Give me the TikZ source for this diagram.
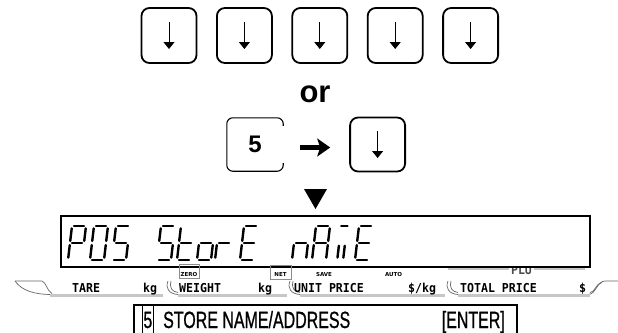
\documentclass[tikz,border=0pt]{standalone}
\usepackage{fontspec}
\setmainfont{Liberation Sans}
\newfontfamily\monofont[FakeStretch=0.94]{DejaVu Sans Mono}
\newfontfamily\narrowfont[FakeStretch=0.68,FakeBold=0.8]{Liberation Sans}
\newfontfamily\tagfont{DejaVu Sans}
\usetikzlibrary{arrows.meta,positioning}

% one slanted LCD segment: x, u1, v1, u2, v2
\newcommand{\lcdline}[5]{\draw[lcdseg] ({#1+#2*14+#3*4},{260-#3*34}) -- ({#1+#4*14+#5*4},{260-#5*34});}
\newcommand{\sega}[1]{\lcdline{#1}{.14}{1}{.86}{1}}
\newcommand{\segb}[1]{\lcdline{#1}{1}{.93}{1}{.56}}
\newcommand{\segc}[1]{\lcdline{#1}{1}{.44}{1}{.07}}
\newcommand{\segd}[1]{\lcdline{#1}{.14}{0}{.86}{0}}
\newcommand{\sege}[1]{\lcdline{#1}{0}{.44}{0}{.07}}
\newcommand{\segf}[1]{\lcdline{#1}{0}{.93}{0}{.56}}
\newcommand{\segg}[1]{\lcdline{#1}{.14}{.5}{.86}{.5}}
\newcommand{\segh}[1]{\lcdline{#1}{.3}{.42}{.3}{.07}}
\newcommand{\segi}[1]{\lcdline{#1}{.72}{.42}{.72}{.07}}
\newcommand{\segj}[1]{\lcdline{#1}{.3}{1}{.75}{1}}
\newcommand{\lcdchar}[2]{\foreach \sg in {#2}{\csname seg\sg\endcsname{#1}}}

\begin{document}
\begin{tikzpicture}[x=1pt,y=-1pt,
  downkey/.style={draw,line width=1.8pt,rounded corners=8pt,minimum width=55pt,minimum height=55pt,inner sep=0pt,
    path picture={\draw[line width=1pt,-{Triangle[width=11pt,length=7pt]}]
      ([yshift=13.5pt]path picture bounding box.center) -- ([yshift=-13.5pt]path picture bounding box.center);}},
  numkey/.style={minimum width=56pt,minimum height=53pt,inner sep=0pt,font=\fontsize{24}{24}\selectfont\bfseries},
  bigarrow/.style={line width=5pt,-{Stealth[length=13pt,width=18pt,inset=3pt]}},
  lcdseg/.style={line width=2.4pt,line cap=round},
  lab/.style={font=\monofont\bfseries\fontsize{12.3}{12}\selectfont,inner sep=0pt,anchor=base west},
  tagbox/.style={draw=black!45,line width=.6pt,minimum width=20pt,minimum height=14pt,inner sep=0pt},
  tag/.style={font=\tagfont\bfseries\fontsize{5.5}{5.5}\selectfont,inner sep=0pt},
  segline/.style={draw=black!60,line width=.7pt},
  bar/.style={draw=black!22,line width=3pt},
  menu/.style={font=\narrowfont\fontsize{23.5}{24}\selectfont,inner sep=0pt}]
\useasboundingbox (0,0) rectangle (618,332);
\clip (0,0) rectangle (618,332);

\node[downkey] (d1) at (169,35.5) {};
\foreach \i [remember=\i as \j (initially 1)] in {2,...,5}
  \node[downkey,right=18.6pt of d\j] (d\i) {};
\node[font=\fontsize{31}{31}\selectfont\bfseries] (or) at (315,94) {or};
\node[numkey] (five) at (255,144.5) {5};
\draw[line width=1.1pt,rounded corners=6pt] ([yshift=-8pt]five.north east) -- (five.north east)
  -- (five.north west) -- (five.south west) -- (five.south east) -- ([yshift=8pt]five.south east);
\node[downkey,minimum height=54pt,right=66pt of five] (down) {};
\draw[bigarrow,shorten <=17pt,shorten >=19pt] ([yshift=-3pt]five.east) -- ([yshift=-3pt]down.west);
\fill (304,189) -- (327,189) -- (315.5,209) -- cycle;

% legend strip under the display
\draw[bar] (448,268) -- (585,268);
\node[lab,anchor=center,fill=white,inner xsep=2pt,text=black!70] (plu) at (521.5,270) {PLU};
\draw[segline] (15,281) -- (42,281) .. controls (46,282) and (47,291) .. (52,293.5);
\draw[segline] (15,281) .. controls (22,291) and (35,294.5) .. (52,294.5);
\foreach \x in {165,287,445} {
  \draw[segline] ({\x+3},281) .. controls (\x,288) and ({\x+4},294) .. ({\x+13},294.5);
  \draw[segline] ({\x+6},281) .. controls ({\x+4},287) and ({\x+7},292) .. ({\x+13},292.5);
}
\draw[segline] (588,294.5) .. controls (596,294.5) and (597,281) .. (605,281) -- (618,281);
\draw[segline] (590,292.5) .. controls (595,292.5) and (596,283) .. (602,282.5);
\draw[bar] (50,295.5) -- (163,295.5);
\draw[bar] (178,295.5) -- (287,295.5);
\draw[bar] (300,295.5) -- (445,295.5);
\draw[bar] (458,295.5) -- (590,295.5);
\node[lab] (tare) at (72,292) {TARE};
\node[lab] (kga) at (143,292) {kg};
\node[lab] (weight) at (179,292) {WEIGHT};
\node[lab] (kgb) at (258,292) {kg};
\node[lab] (unitp) at (294,292) {UNIT PRICE};
\node[lab] (perkg) at (408,292) {\$/kg};
\node[lab] (totalp) at (460,292) {TOTAL PRICE};
\node[lab] (dollar) at (579,292) {\$};

% display
\node[draw,line width=1.5pt,fill=white,minimum width=529pt,minimum height=51pt,inner sep=0pt] (lcd) at (325.5,241.5) {};
\lcdchar{68}{a,b,f,g,e}
\lcdchar{90}{a,b,c,d,e,f}
\lcdchar{112}{a,f,g,c,d}
\lcdchar{157}{a,f,g,c,d}
\lcdchar{177}{f,e,g,d}
\lcdchar{197}{g,c,d,e}
\lcdchar{215}{g,e}
\lcdchar{240}{a,f,g,e,d}
\lcdchar{292}{g,e,c}
\lcdchar{312}{a,b,c,e,f,g}
\lcdchar{333}{j,h,i}
\lcdchar{355}{a,f,g,e,d}

\node[tagbox] (zero) at (189,271) {};
\node[tag] (zerotxt) at ([yshift=-3.5pt]zero.center) {ZERO};
\node[tagbox,minimum width=21pt] (net) at (280.5,272) {};
\node[tag] (nettxt) at ([yshift=-2.5pt]net.center) {NET};
\node[tag] (save) at (324,274.5) {SAVE};
\node[tag] (auto) at (393.5,274.5) {AUTO};

% menu line
\node[draw,line width=1.6pt,minimum width=383pt,minimum height=34pt,inner sep=0pt,anchor=north west] (menubox) at (133,304) {};
\node[menu,draw,line width=.8pt,inner xsep=1pt,inner ysep=6pt,anchor=base west] (menunum) at (142,328) {5};
\node[menu,anchor=base west] (menuname) at (163,328) {STORE NAME/ADDRESS};
\node[menu,anchor=base east] (menuenter) at (505,328) {[ENTER]};
\end{tikzpicture}
\end{document}
